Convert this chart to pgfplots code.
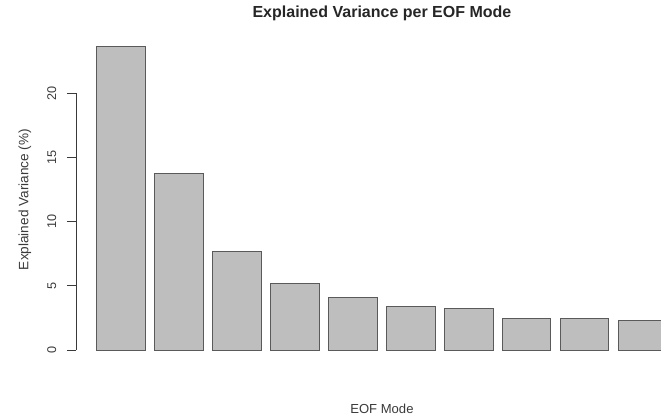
\documentclass[border=0pt]{standalone}
\usepackage{pgfplots}
\pgfplotsset{compat=1.18}
\usepackage{fontspec}
\setmainfont{Liberation Sans}
\definecolor{barfill}{HTML}{BEBEBE}
\definecolor{barline}{HTML}{5A5A5A}
\definecolor{txt}{HTML}{3A3A3A}
\begin{document}
\begin{tikzpicture}
\begin{axis}[
  at={(0,0)}, anchor=south west,
  scale only axis, width=438.75pt, height=262.5pt,
  xmin=-0.234, xmax=11.878, ymin=0, ymax=27.24,
  axis line style={draw=none},
  xtick=\empty,
  ytick={0,5,10,15,20},
  ytick pos=left,
  tick align=outside,
  major tick length=6.75pt,
  tick style={color=txt, line width=0.6pt},
  /pgf/number format/assume math mode=true,
  yticklabel style={rotate=90, anchor=south, yshift=4.5pt, font=\fontsize{9.5}{11}\selectfont, text=txt},
  every axis title shift=0pt,
  title={Explained Variance per EOF Mode},
  title style={at={(axis description cs:0.523,0.963)}, anchor=center, font=\bfseries\fontsize{12}{14}\selectfont, text=black!85},
  xlabel={EOF Mode},
  xlabel style={at={(axis description cs:0.523,-0.169)}, anchor=center, font=\fontsize{9.8}{11}\selectfont, text=txt},
  ylabel={Explained Variance (\%)},
  ylabel style={at={(axis description cs:-0.0872,0.43)}, anchor=center, rotate=0, font=\fontsize{10.2}{12}\selectfont, text=txt},
]
\addplot[ybar, bar width=1, bar shift=0pt, fill=barfill, draw=barline, line width=0.75pt] coordinates {
(0.7,23.66) (1.9,13.75) (3.1,7.63) (4.3,5.14) (5.5,4.12) (6.7,3.42) (7.9,3.24) (9.1,2.49) (10.3,2.49) (11.5,2.33)
};
\end{axis}
\draw[txt, line width=0.6pt] (0,0) -- (0,192.75pt);
\pgfresetboundingbox
\path[use as bounding box] (-57pt,-51.75pt) rectangle (438.75pt,262.5pt);
\end{tikzpicture}
\end{document}
